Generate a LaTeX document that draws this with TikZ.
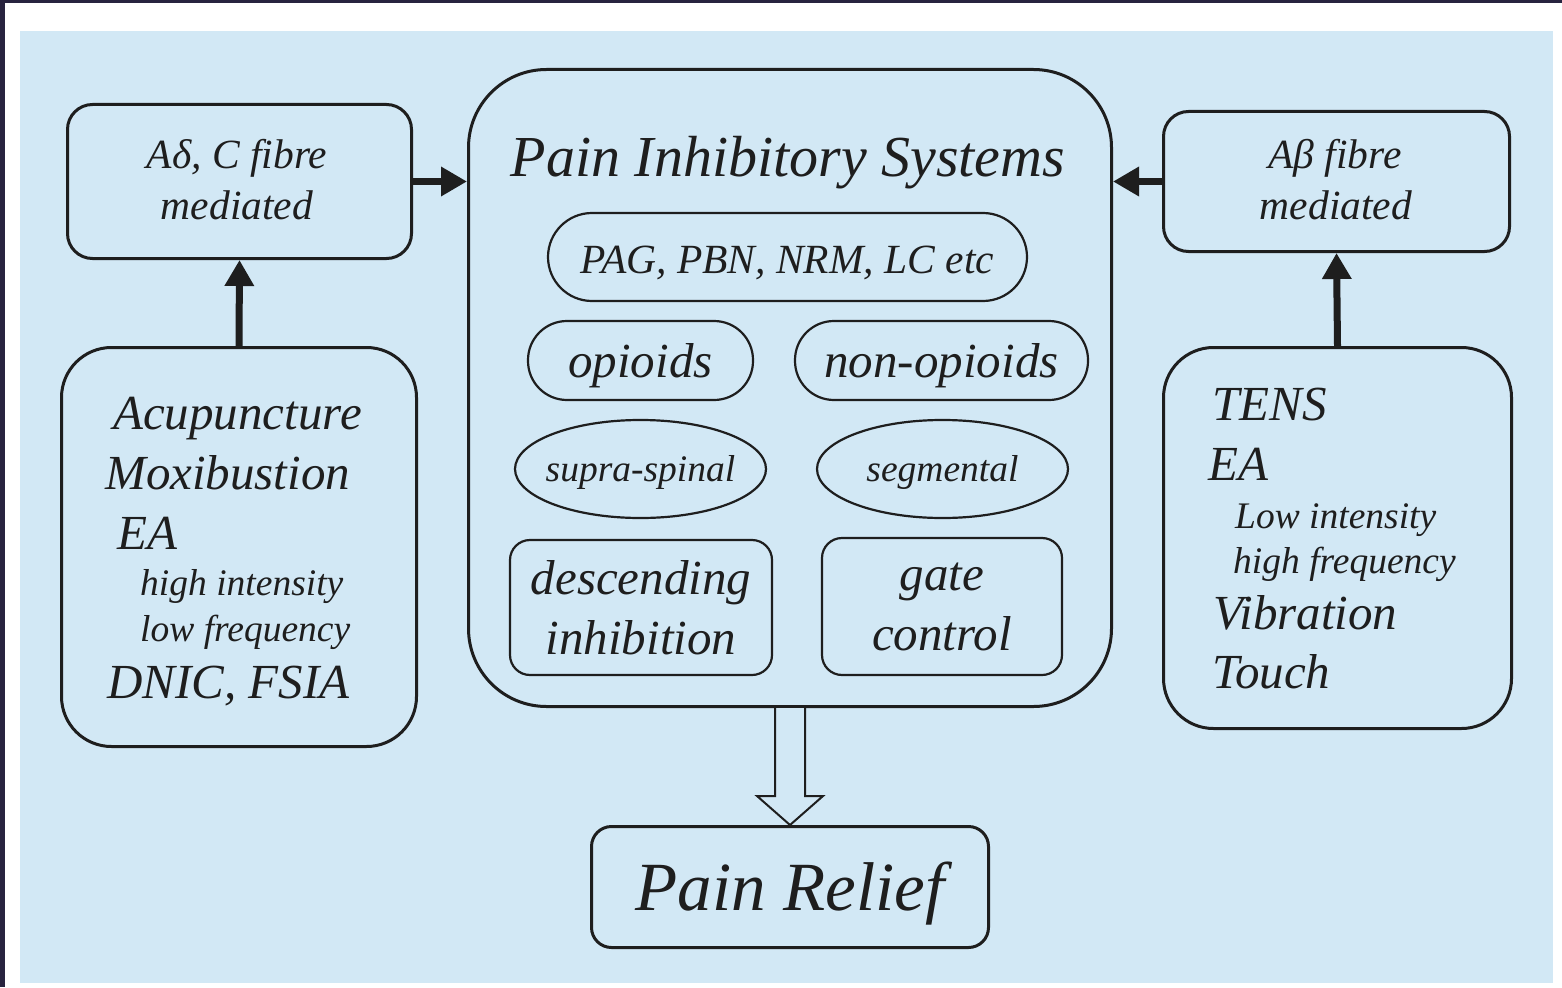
\documentclass[tikz,border=0pt]{standalone}
\usepackage{fontspec}
\setmainfont{Liberation Serif}
\usetikzlibrary{arrows.meta,shapes.geometric,calc}
\definecolor{navy}{HTML}{28233F}
\definecolor{bgblue}{HTML}{D2E8F5}
\definecolor{ink}{HTML}{1E1E1E}
\newcommand\szTitle{\fontsize{58}{66}\selectfont\itshape}
\newcommand\szBig{\fontsize{49}{60}\selectfont\itshape}
\newcommand\szMed{\fontsize{41.5}{50}\selectfont\itshape}
\newcommand\szSmall{\fontsize{37.5}{45}\selectfont\itshape}
\newcommand\szRelief{\fontsize{69}{80}\selectfont\itshape}
\tikzset{
  frame/.style={draw=ink, line width=3pt, inner sep=0pt, text=ink},
  pill/.style={draw=ink, line width=2.2pt, inner sep=0pt, align=center, text=ink},
  ell/.style={draw=ink, line width=2.2pt, ellipse, inner sep=0pt},
  txt/.style={inner sep=0pt, text=ink},
  fat/.style={draw=ink, line width=7pt, -{Triangle[length=26pt,width=28pt]}},
  hollow/.style={draw=ink, line width=2pt, fill=bgblue, line join=miter},
}
\begin{document}
\begin{tikzpicture}[x=1pt,y=-1pt]
\useasboundingbox (0,0) rectangle (1562,987);
\fill[white] (0,0) rectangle (1562,987);
\fill[navy] (0,0) rectangle (1562,3);
\fill[navy] (0,0) rectangle (5,987);
\fill[bgblue] (20,31) rectangle (1553,983);

% outer boxes
\node[frame, rounded corners=25pt, minimum width=344pt, minimum height=154pt, anchor=north west] (afib) at (66,103) {};
\node[frame, rounded corners=50pt, minimum width=355pt, minimum height=399pt, anchor=north west] (lbox) at (60,346) {};
\node[frame, rounded corners=78pt, minimum width=643pt, minimum height=637pt, anchor=north west] (pis) at (467,68) {};
\node[frame, rounded corners=25pt, minimum width=346pt, minimum height=140pt, anchor=north west] (bfib) at (1162,110) {};
\node[frame, rounded corners=50pt, minimum width=348pt, minimum height=381pt, anchor=north west] (rbox) at (1162,346) {};
\node[frame, rounded corners=20pt, minimum width=397pt, minimum height=121pt, anchor=north west, font=\szRelief, text depth=2pt] (relief) at (590,825) {Pain Relief};

% inner shapes
\node[txt, font=\szTitle, anchor=base] (title) at (788,176) {Pain Inhibitory Systems};
\node[pill, rounded corners=44pt, minimum width=479pt, minimum height=88pt, font=\szMed, text height=32pt, text depth=0pt] (pag) at (787.5,257) {PAG, PBN, NRM, LC etc};
\node[pill, rounded corners=39pt, minimum width=225pt, minimum height=79pt, font=\szBig, text depth=1pt] (opi) at (640.5,360.5) {opioids};
\node[pill, rounded corners=39pt, minimum width=293pt, minimum height=79pt, font=\szBig, text depth=1pt] (nopi) at (941.5,360.5) {non-opioids};
\node[ell, minimum width=251pt, minimum height=98pt, label={[txt, font=\szSmall, yshift=-3pt]center:supra-spinal}] (supra) at (640.5,469) {};
\node[ell, minimum width=251pt, minimum height=98pt, label={[txt, font=\szSmall, yshift=-3pt]center:segmental}] (seg) at (942.5,469) {};
\node[pill, rounded corners=20pt, minimum width=262pt, minimum height=135pt, font=\szBig] (desc) at (641,607.5) {descending\\inhibition};
\node[pill, rounded corners=20pt, minimum width=240pt, minimum height=137pt, font=\szBig] (gate) at (942,606.5) {gate\\control};

% texts of side boxes
\node[txt, font=\szMed, anchor=base] (a1) at (237,169) {Aδ, C fibre};
\node[txt, font=\szMed, anchor=base] (a2) at (237,219) {mediated};
\node[txt, font=\szMed, anchor=base] (b1) at (1335,169) {Aβ fibre};
\node[txt, font=\szMed, anchor=base] (b2) at (1336,219) {mediated};

\node[txt, font=\szBig, anchor=base west] (l1) at (113,429) {Acupuncture};
\node[txt, font=\szBig, anchor=base west] (l2) at (105,489) {Moxibustion};
\node[txt, font=\szBig, anchor=base west] (l3) at (117,549) {EA};
\node[txt, font=\szSmall, anchor=base west] (l4) at (140,595) {high intensity};
\node[txt, font=\szSmall, anchor=base west] (l5) at (140,641) {low frequency};
\node[txt, font=\szBig, anchor=base west] (l6) at (107,698) {DNIC, FSIA};

\node[txt, font=\szBig, anchor=base west] (r1) at (1212,420) {TENS};
\node[txt, font=\szBig, anchor=base west] (r2) at (1208,480) {EA};
\node[txt, font=\szSmall, anchor=base west] (r3) at (1235,528) {Low intensity};
\node[txt, font=\szSmall, anchor=base west] (r4) at (1233,573) {high frequency};
\node[txt, font=\szBig, anchor=base west] (r5) at (1213,629) {Vibration};
\node[txt, font=\szBig, anchor=base west] (r6) at (1212,688) {Touch};

% connectors
\draw[fat] (afib.east) -- (afib.east -| pis.west);
\draw[fat] (bfib.west) -- (bfib.west -| pis.east);
\draw[fat] (lbox.north) -- (afib.south);
\draw[fat] (rbox.north) -- (bfib.south);
\draw[hollow] ($(pis.south)+(-15,0)$) -- ($(pis.south)+(-15,88)$) -- ($(pis.south)+(-33,88)$)
  -- (relief.north) -- ($(pis.south)+(33,88)$) -- ($(pis.south)+(15,88)$) -- ($(pis.south)+(15,0)$);
\end{tikzpicture}
\end{document}
